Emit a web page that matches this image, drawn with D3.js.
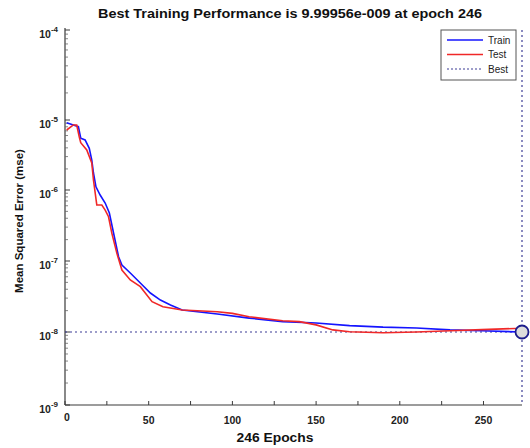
<!DOCTYPE html>
<html>
<head>
<meta charset="utf-8">
<script src="https://cdn.jsdelivr.net/npm/d3@7"></script>
<style>
  html, body { margin: 0; padding: 0; background: #fff; }
  svg { display: block; font-family: "Liberation Sans", Arial, sans-serif; }
</style>
</head>
<body>
<svg id="chart" width="530" height="448"></svg>
<script>
// ---- data ----
const titleText = "Best Training Performance is 9.99956e-009 at epoch 246";
const xLabelText = "246 Epochs";
const yLabelText = "Mean Squared Error (mse)";
const seriesNames = ["Train", "Test", "Best"];

const trainEpochs = [1, 5, 8, 9.4, 12, 14.5, 16, 17, 18.5, 21, 24, 26.5, 29, 32, 34, 39, 45, 51, 57, 63, 70, 91, 110, 130, 150, 170, 190, 210, 230, 249, 273];
const trainMse = [9.15e-6, 8.49e-6, 8.02e-6, 5.49e-6, 5.18e-6, 3.94e-6, 2.68e-6, 1.75e-6, 1.11e-6, 8.5e-7, 6.56e-7, 4.74e-7, 2.48e-7, 1.15e-7, 8.78e-8, 6.78e-8, 4.9e-8, 3.54e-8, 2.82e-8, 2.4e-8, 2.04e-8, 1.79e-8, 1.57e-8, 1.40e-8, 1.34e-8, 1.23e-8, 1.17e-8, 1.14e-8, 1.07e-8, 1.04e-8, 9.99956e-9];

const testEpochs = [1, 5, 7, 8.5, 9.4, 13, 16, 17, 19, 22, 24, 26, 28, 31, 34, 39, 45, 52, 58.5, 70, 91, 100, 110, 130, 140, 150, 160, 170, 190, 210, 230, 249, 273];
const testMse = [7.2e-6, 8.49e-6, 8.49e-6, 5.77e-6, 4.74e-6, 3.73e-6, 2.43e-6, 1.39e-6, 6.15e-7, 6.15e-7, 5.22e-7, 4.2e-7, 2.45e-7, 1.28e-7, 7.47e-8, 5.4e-8, 4.35e-8, 2.67e-8, 2.27e-8, 2.04e-8, 1.93e-8, 1.83e-8, 1.64e-8, 1.44e-8, 1.40e-8, 1.26e-8, 1.07e-8, 1.01e-8, 9.78e-9, 1.0e-8, 1.04e-8, 1.08e-8, 1.13e-8];

const bestEpoch = 273;          // position of the best marker on the drawn axis
const bestMse = 9.99956e-9;
const goalMse = 1e-8;

const xDomain = [0, 273];
const xTickValues = [0, 25, 50, 75, 100, 125, 150, 175, 200, 225, 250];
const xLabelValues = [0, 50, 100, 150, 200, 250];
const yTickExps = [-9, -8, -7, -6, -5, -4];
const minorMultipliers = [2, 3, 4, 5, 6, 7, 8, 9];

// ---- layout ----
const svg = d3.select("#chart");
const pLeft = 65, pRight = 522, pBottom = 405, pTop = 30;

const x = d3.scaleLinear().domain(xDomain).range([pLeft, pRight]);
// log axis (decades); polylinear to follow the reference's decade spacing
const yExp = d3.scaleLinear().domain(yTickExps).range([405, 332, 261, 190, 120, 30]);
const y = v => yExp(Math.log10(v));

const blue = "#1414ff", red = "#f02828", bestCol = "#3c3c96", axisCol = "#3a3a3a";

// title
svg.append("text").attr("x", 290).attr("y", 18).attr("text-anchor", "middle")
  .attr("font-weight", "bold").attr("font-size", 13).attr("fill", "#111")
  .attr("textLength", 384).attr("lengthAdjust", "spacingAndGlyphs").text(titleText);

// x axis label
svg.append("text").attr("x", 275).attr("y", 442).attr("text-anchor", "middle")
  .attr("font-weight", "bold").attr("font-size", 12.5).attr("fill", "#111")
  .attr("textLength", 77).attr("lengthAdjust", "spacingAndGlyphs").text(xLabelText);

// y axis label
svg.append("text").attr("transform", "translate(23,221) rotate(-90)").attr("text-anchor", "middle")
  .attr("font-weight", "bold").attr("font-size", 11.5).attr("fill", "#111").text(yLabelText);

// axes lines
const g = svg.append("g");
g.append("line").attr("x1", pLeft).attr("x2", pLeft).attr("y1", pTop - 2).attr("y2", pBottom)
  .attr("stroke", axisCol).attr("stroke-width", 1.2);
g.append("line").attr("x1", pLeft).attr("x2", pRight).attr("y1", pBottom).attr("y2", pBottom)
  .attr("stroke", axisCol).attr("stroke-width", 1.2);

// x ticks (inward)
g.selectAll(".xt").data(xTickValues).enter().append("line")
  .attr("x1", d => x(d)).attr("x2", d => x(d)).attr("y1", pBottom).attr("y2", pBottom - 4)
  .attr("stroke", axisCol).attr("stroke-width", 1);
g.selectAll(".xl").data(xLabelValues).enter().append("text")
  .attr("x", d => x(d) + (d === 0 ? 2 : 0)).attr("y", d => d === 0 ? 421 : 424)
  .attr("text-anchor", "middle").attr("font-size", 10.5).attr("font-weight", "bold").attr("fill", "#222")
  .text(d => d);

// y major ticks
g.selectAll(".yt").data(yTickExps).enter().append("line")
  .attr("x1", pLeft).attr("x2", pLeft + 5).attr("y1", d => yExp(d)).attr("y2", d => yExp(d))
  .attr("stroke", axisCol).attr("stroke-width", 1);
// y minor ticks
const minors = [];
yTickExps.slice(0, -1).forEach(e => minorMultipliers.forEach(m => minors.push(m * Math.pow(10, e))));
g.selectAll(".ym").data(minors).enter().append("line")
  .attr("x1", pLeft).attr("x2", pLeft + 3).attr("y1", d => y(d)).attr("y2", d => y(d))
  .attr("stroke", "#666").attr("stroke-width", 0.8);

// y labels 10^k
const yl = g.selectAll(".yl").data(yTickExps).enter().append("text")
  .attr("x", 58).attr("y", d => yExp(d) + 8).attr("text-anchor", "end")
  .attr("font-size", 10.5).attr("font-weight", "bold").attr("fill", "#222");
yl.append("tspan").text("10");
yl.append("tspan").attr("dy", -6).attr("font-size", 8).text(d => String(d));

// best lines (dotted)
g.append("line").attr("x1", pLeft).attr("x2", pRight).attr("y1", y(goalMse)).attr("y2", y(goalMse))
  .attr("stroke", bestCol).attr("stroke-width", 1.2).attr("stroke-dasharray", "2,3");
g.append("line").attr("x1", x(bestEpoch)).attr("x2", x(bestEpoch)).attr("y1", pTop).attr("y2", pBottom)
  .attr("stroke", bestCol).attr("stroke-width", 1.2).attr("stroke-dasharray", "2,3");

// series
const line = d3.line().x(d => x(d[0])).y(d => y(d[1]));
g.append("path").datum(trainEpochs.map((e, i) => [e, trainMse[i]]))
  .attr("d", line).attr("fill", "none").attr("stroke", blue).attr("stroke-width", 1.6);
g.append("path").datum(testEpochs.map((e, i) => [e, testMse[i]]))
  .attr("d", line).attr("fill", "none").attr("stroke", red).attr("stroke-width", 1.6);

// best marker
g.append("circle").attr("cx", x(bestEpoch)).attr("cy", y(bestMse)).attr("r", 6.5)
  .attr("fill", "#dcdcdc").attr("stroke", "#1c1c8c").attr("stroke-width", 1.8);

// legend
const lg = svg.append("g");
lg.append("rect").attr("x", 441).attr("y", 30).attr("width", 75).attr("height", 50)
  .attr("fill", "#fff").attr("stroke", "#555").attr("stroke-width", 1);
const legendColors = [blue, red, bestCol];
const legendDash = [null, null, "2,2"];
seriesNames.forEach((n, i) => {
  const ly = 40 + i * 14.5;
  lg.append("line").attr("x1", 447).attr("x2", 483).attr("y1", ly).attr("y2", ly)
    .attr("stroke", legendColors[i]).attr("stroke-width", i < 2 ? 1.6 : 1.1)
    .attr("stroke-dasharray", legendDash[i]);
  lg.append("text").attr("x", 488).attr("y", ly + 3.5).attr("font-size", 10).attr("fill", "#222").text(n);
});
</script>
</body>
</html>
